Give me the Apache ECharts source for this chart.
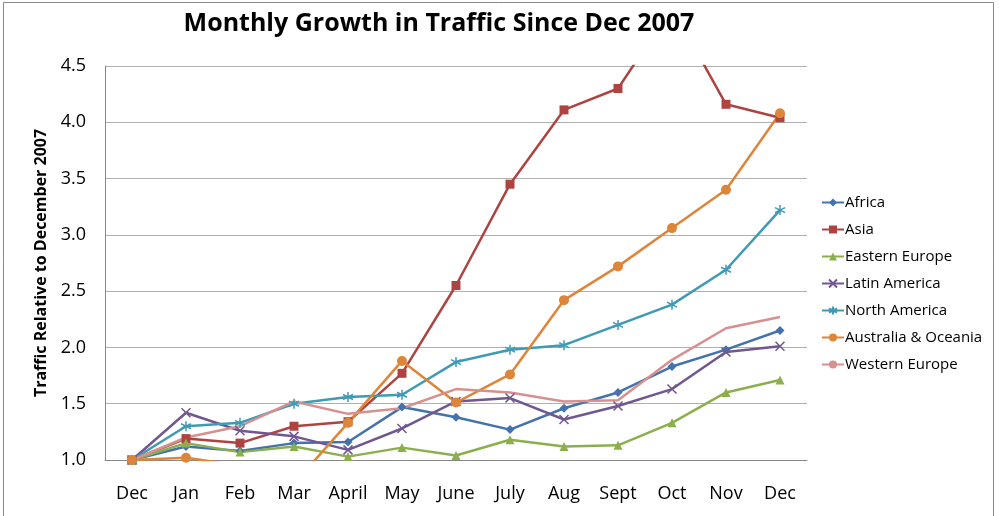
<!DOCTYPE html>
<html>
<head>
<meta charset="utf-8">
<script src="https://cdn.jsdelivr.net/npm/echarts@6/dist/echarts.min.js"></script>
<style>
html, body { margin: 0; padding: 0; background: #fff; }
#chart { width: 999px; height: 516px; }
</style>
</head>
<body>
<div id="chart"></div>
<script>
// months since Dec 2007
const months = ['Dec', 'Jan', 'Feb', 'Mar', 'April', 'May', 'June', 'July', 'Aug', 'Sept', 'Oct', 'Nov', 'Dec'];

const africa = [1.0, 1.12, 1.08, 1.15, 1.16, 1.47, 1.38, 1.27, 1.46, 1.60, 1.83, 1.98, 2.15];
const asia = [1.0, 1.19, 1.15, 1.30, 1.34, 1.77, 2.55, 3.45, 4.11, 4.30, 5.02, 4.16, 4.04];
const easternEurope = [1.0, 1.15, 1.07, 1.12, 1.03, 1.11, 1.04, 1.18, 1.12, 1.13, 1.33, 1.60, 1.71];
const latinAmerica = [1.0, 1.42, 1.26, 1.21, 1.09, 1.28, 1.52, 1.55, 1.36, 1.48, 1.63, 1.96, 2.01];
const northAmerica = [1.0, 1.30, 1.33, 1.50, 1.56, 1.58, 1.87, 1.98, 2.02, 2.20, 2.38, 2.69, 3.22];
const australia = [1.0, 1.02, 0.95, 0.79, 1.33, 1.88, 1.51, 1.76, 2.42, 2.72, 3.06, 3.40, 4.08];
const westernEurope = [1.0, 1.20, 1.30, 1.52, 1.41, 1.46, 1.63, 1.60, 1.52, 1.53, 1.89, 2.17, 2.27];

const yTicks = { min: 1.0, max: 4.5, step: 0.5 };

const X_PATH = 'path://M0,0L10,10M10,0L0,10';
const STAR_PATH = 'path://M5,0L5,10M0,2.5L10,7.5M10,2.5L0,7.5';

function line(name, data, color, symbol, size, stroked) {
    return {
        name: name,
        type: 'line',
        data: data,
        symbol: symbol,
        symbolSize: size,
        showSymbol: symbol !== 'none',
        clip: true,
        lineStyle: { color: color, width: 2.5 },
        itemStyle: stroked
            ? { color: 'rgba(0,0,0,0)', borderColor: color, borderWidth: 1.5 }
            : { color: color },
        emphasis: { disabled: true }
    };
}

const myChart = echarts.init(document.getElementById('chart'));

myChart.setOption({
    animation: false,
    backgroundColor: '#fff',
    textStyle: { fontFamily: 'Open Sans' },
    title: {
        text: 'Monthly Growth in Traffic Since Dec 2007',
        left: 434,
        top: 6,
        textAlign: 'center',
        textStyle: { fontSize: 25, fontWeight: 'bold', color: '#000', fontFamily: 'Open Sans' }
    },
    graphic: [{
        type: 'rect',
        shape: { x: 3.5, y: 2.5, width: 990, height: 530 },
        style: { fill: 'none', stroke: '#888', lineWidth: 1 },
        silent: true
    }],
    legend: {
        orient: 'vertical',
        left: 816,
        top: 190,
        itemGap: 12,
        itemWidth: 22,
        itemHeight: 10,
        textStyle: { fontSize: 15, color: '#000', fontFamily: 'Open Sans', padding: [0, 0, 0, -4] },
        data: ['Africa', 'Asia', 'Eastern Europe', 'Latin America', 'North America', 'Australia & Oceania', 'Western Europe']
    },
    grid: { left: 105, right: 192, top: 66, bottom: 56 },
    xAxis: {
        type: 'category',
        data: months,
        boundaryGap: true,
        axisLine: { lineStyle: { color: '#888', width: 1 } },
        axisTick: { show: false },
        axisLabel: { fontSize: 18, color: '#000', margin: 25, fontFamily: 'Open Sans' }
    },
    yAxis: {
        type: 'value',
        min: yTicks.min,
        max: yTicks.max,
        interval: yTicks.step,
        name: 'Traffic Relative to December 2007',
        nameLocation: 'middle',
        nameGap: 56,
        nameTextStyle: { fontSize: 16, fontWeight: 'bold', color: '#000', fontFamily: 'Open Sans' },
        axisLine: { show: true, lineStyle: { color: '#888', width: 1 } },
        axisTick: { show: false },
        axisLabel: {
            fontSize: 18, color: '#000', margin: 19, fontFamily: 'Open Sans',
            formatter: v => v.toFixed(1)
        },
        splitLine: { lineStyle: { color: '#b0b0b0', width: 1 } }
    },
    series: [
        line('Africa', africa, '#4472AB', 'diamond', 9, false),
        line('Asia', asia, '#AE4441', 'rect', 9, false),
        line('Eastern Europe', easternEurope, '#8CAF4E', 'triangle', 9, false),
        line('Latin America', latinAmerica, '#71578F', X_PATH, 9, true),
        line('North America', northAmerica, '#3F9AB4', STAR_PATH, 10, true),
        line('Australia & Oceania', australia, '#DD8538', 'circle', 10, false),
        line('Western Europe', westernEurope, '#D5908F', 'none', 0, false)
    ]
});
</script>
</body>
</html>
